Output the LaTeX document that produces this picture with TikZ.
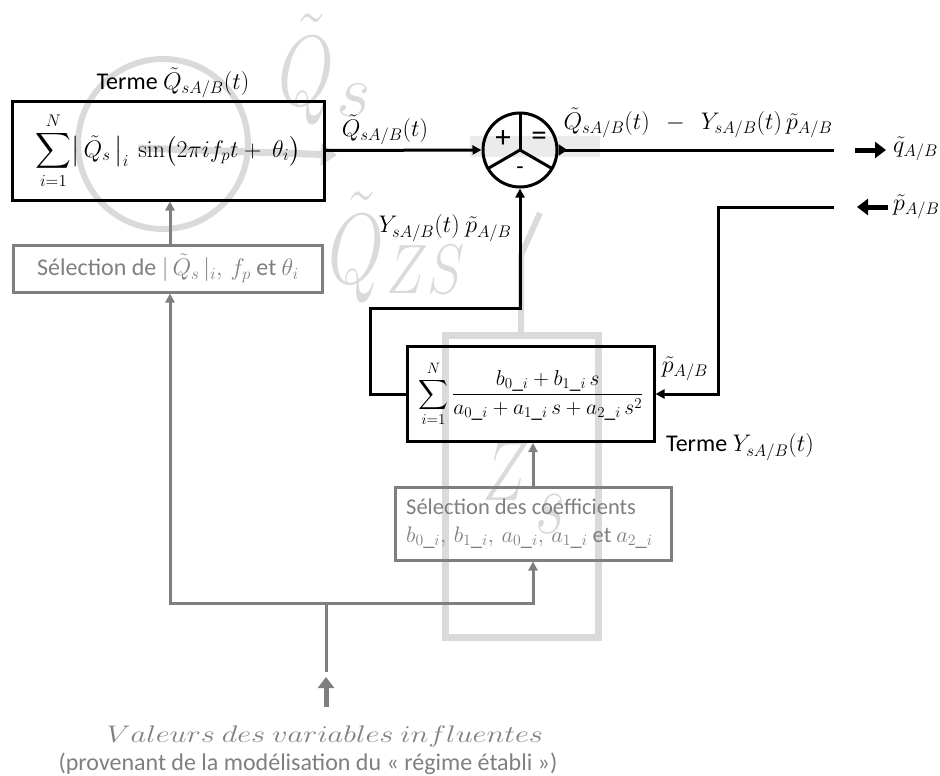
\RequirePackage{fix-cm}
\documentclass[tikz,border=0pt]{standalone}
\usepackage{exscale}
\usepackage[no-math]{fontspec}
\setmainfont{Carlito}
\usetikzlibrary{arrows.meta}
\definecolor{gr}{HTML}{7F7F7F}
\definecolor{wm}{HTML}{DADADA}
\definecolor{wmband}{HTML}{EBEBEB}
\begin{document}
\begin{tikzpicture}[x=1pt,y=-1pt,
  font=\fontsize{24}{29}\selectfont,
  blk/.style={draw, line width=3pt, inner sep=0pt},
  grb/.style={draw=gr, line width=3pt, text=gr, inner sep=0pt},
  conn/.style={line width=3pt, -{Triangle[length=9pt,width=9pt]}},
  gline/.style={draw=gr, line width=3pt},
  garr/.style={draw=gr, line width=3pt, -{Triangle[length=9pt,width=9pt]}},
  bigarr/.style={line width=5pt, -{Triangle[length=11pt,width=16pt]}},
  wmtext/.style={text=wm, inner sep=0pt, anchor=base west},
  lbl/.style={inner sep=0pt}]
\useasboundingbox (0,0) rectangle (940,776);

% ---------- watermark (background logo) ----------
\fill[wmband] (470,136) rectangle (600,157);
\draw[wm, line width=6pt] (163,144) circle [radius=85];
\draw[wm, line width=7pt, -{Triangle[length=16pt,width=22pt]}] (138,148) -- (337,155);
\node[wmtext, font=\fontsize{100}{100}\selectfont, xscale=0.72] (wq1) at (278,105) {$\tilde{Q}$};
\node[wmtext, font=\fontsize{75}{75}\selectfont] (wq1s) at (336,117) {$s$};
\node[wmtext, font=\fontsize{100}{100}\selectfont, xscale=0.72] (wq2) at (328,283) {$\tilde{Q}$};
\node[wmtext, font=\fontsize{70}{70}\selectfont, xscale=0.8] (wq2s) at (386,293) {$ZS$};
\node[wmtext, font=\fontsize{85}{85}\selectfont, xscale=0.75] (wz) at (482,500) {$Z$};
\node[wmtext, font=\fontsize{90}{90}\selectfont, xscale=0.72] (wzs) at (535,533) {$s$};
\draw[wm, line width=6pt] (540,213) -- (521,255) -- (521,335);
\draw[wm, line width=7pt] (445,335) rectangle (598,637);

% ---------- blocks ----------
\node[blk, minimum width=312pt, minimum height=99pt] (top) at (168,150.5)
  {$\displaystyle\sum_{i=1}^{N}\bigl|\,\tilde{Q}_s\,\bigr|_i\ \sin\bigl(2\pi i f_p t +\ \theta_i\bigr)$};
\node[lbl] (toplbl) at (173,83) {Terme $\tilde{Q}_{sA/B}(t)$};

\node[grb, minimum width=309pt, minimum height=47pt] (sel1) at (168,268.5)
  {Sélection de $|\,\tilde{Q}_s\,|_i,\, f_p$ et $\theta_i$};

\node[circle, draw, line width=3pt, minimum size=74pt, inner sep=0pt] (sum) at (520,150) {};
\draw[line width=3pt] (sum.center) -- (sum.north);
\draw[line width=3pt] (sum.center) -- (488,168.5);
\draw[line width=3pt] (sum.center) -- (552,168.5);
\node[lbl, font=\fontsize{31}{31}\selectfont] (plus) at (503,139) {+};
\node[lbl, font=\fontsize{31}{31}\selectfont] (eq) at (539,139) {=};
\node[lbl] (minus) at (520,171) {-};

\node[blk, minimum width=247pt, minimum height=95pt] (bot) at (530.5,394) {};
\node[lbl, font=\fontsize{21.5}{26}\selectfont] (botmath) at (531,394)
  {$\displaystyle\sum_{i=1}^{N}\frac{b_{0\_i}+b_{1\_i}\,s}{a_{0\_i}+a_{1\_i}\,s+a_{2\_i}\,s^2}$};
\node[lbl, anchor=west] (botlbl) at (666,447) {Terme $Y_{sA/B}(t)$};

\node[grb, minimum width=276pt, minimum height=73pt] (sel2) at (533,523.5) {};
\node[lbl, text=gr, font=\fontsize{22.5}{28}\selectfont, align=left, anchor=west] (sel2t) at (406,523.5)
  {Sélection des coefficients\\$b_{0\_i},\, b_{1\_i},\, a_{0\_i},\, a_{1\_i}$ et $a_{2\_i}$};

% ---------- black connectors ----------
\draw[conn] (top.east) -- (sum.west);
\node[lbl] (qin) at (385,130) {$\tilde{Q}_{sA/B}(t)$};

\coordinate (oend) at (834,150);
\draw[line width=3pt, {Triangle[reversed,length=9pt,width=11pt]}-] (sum.east) -- (oend);
\node[lbl] (qout) at (698,123) {$\tilde{Q}_{sA/B}(t)\ \ -\ \ Y_{sA/B}(t)\,\tilde{p}_{A/B}$};
\coordinate (qa0) at (855,150);
\coordinate (qa1) at (886,150);
\draw[bigarr] (qa0) -- (qa1);
\node[lbl, anchor=west] (qright) at (893,149) {$\tilde{q}_{A/B}$};

\coordinate (iend) at (834,207);
\coordinate (c1) at (718,207);
\draw[conn] (iend) -- (c1) |- (bot.east);
\node[lbl] (pin) at (685,369) {$\tilde{p}_{A/B}$};
\coordinate (pa0) at (888,207);
\coordinate (pa1) at (857,207);
\draw[bigarr] (pa0) -- (pa1);
\node[lbl, anchor=west] (pright) at (893,207) {$\tilde{p}_{A/B}$};

\coordinate (f1) at (370,308);
\draw[conn] (bot.west) -| (f1) -- (f1 -| sum.south) -- (sum.south);
\node[lbl] (fb) at (445,228) {$Y_{sA/B}(t)\ \tilde{p}_{A/B}$};

% ---------- gray connectors ----------
\coordinate (j) at (326,603);
\coordinate (jl) at (170,603);
\coordinate (jr) at (533,603);
\coordinate (s0) at (326,672);
\draw[gline] (s0) -- (j);
\draw[gline, line cap=rect] (jl) -- (jr);
\draw[garr] (jl) -- (jl |- sel1.south);
\draw[garr] (jr) -- (jr |- sel2.south);
\draw[garr] (sel1.north -| jl) -- (top.south -| jl);
\draw[garr] (sel2.north -| jr) -- (bot.south -| jr);
\coordinate (ba0) at (326,707);
\coordinate (ba1) at (326,677);
\draw[bigarr, draw=gr, fill=gr] (ba0) -- (ba1);

\node[lbl, text=gr, xscale=1.27] (val) at (325,736) {$Valeurs\ des\ variables\ influentes$};
\node[lbl, text=gr] (prov) at (308,764) {(provenant de la modélisation du « régime établi »)};
\end{tikzpicture}
\end{document}
